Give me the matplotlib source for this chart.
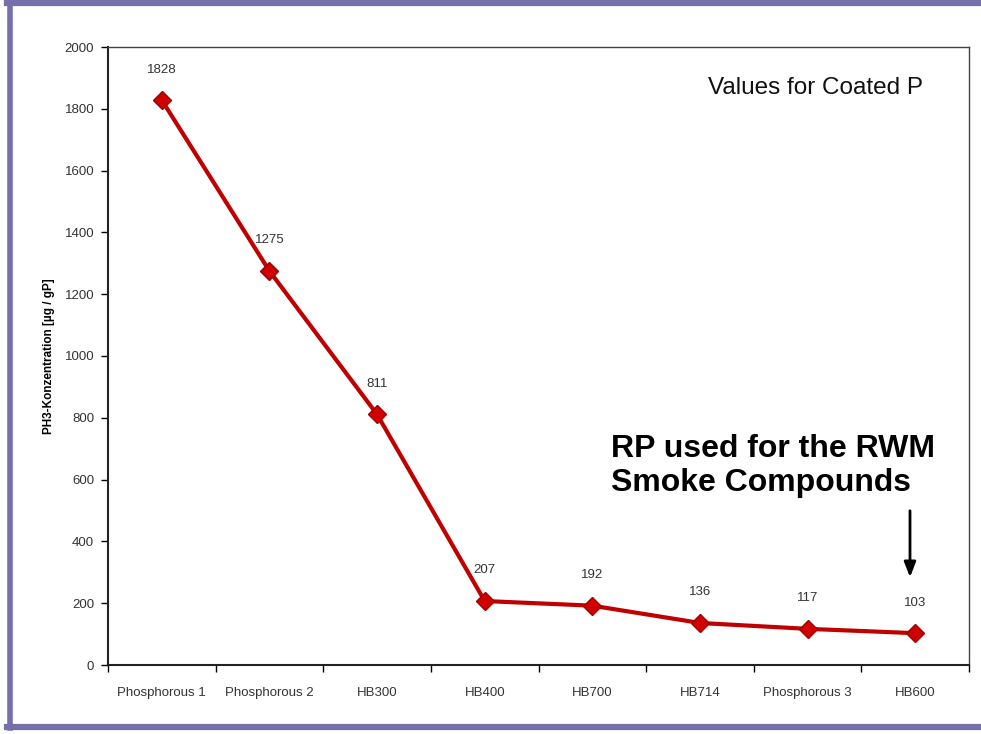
import matplotlib.pyplot as plt
import matplotlib.lines as mlines
import numpy as np

# data
categories = ["Phosphorous 1", "Phosphorous 2", "HB300", "HB400",
              "HB700", "HB714", "Phosphorous 3", "HB600"]
values = [1828, 1275, 811, 207, 192, 136, 117, 103]
yticks = [0, 200, 400, 600, 800, 1000, 1200, 1400, 1600, 1800, 2000]

plt.rcParams["font.family"] = ["Liberation Sans", "DejaVu Sans"]

fig = plt.figure(figsize=(9.81, 7.34), dpi=100)
W, H = 981, 734
ax = fig.add_axes([108 / W, 1 - 665 / H, (969 - 108) / W, (665 - 47) / H])

x = np.arange(len(categories))
ax.plot(x, values, color="#c00000", lw=3, marker="D", markersize=9,
        markerfacecolor="#d00000", markeredgecolor="#a00000", zorder=3)
for xi, v in zip(x, values):
    ax.annotate(str(v), (xi, v), xytext=(0, 22), textcoords="offset points",
                ha="center", va="center", fontsize=9.5, color="#333333")

ax.set_xlim(-0.5, len(categories) - 0.5)
ax.set_ylim(0, 2000)
ax.set_yticks(yticks)
ax.set_yticklabels([str(t) for t in yticks], fontsize=9.5, color="#333333")
ax.set_xticks(x)
ax.set_xticklabels(categories, fontsize=9.5, color="#333333")
ax.set_xticks(np.arange(len(categories) + 1) - 0.5, minor=True)
ax.tick_params(axis="x", which="major", length=0, pad=16)
ax.tick_params(axis="x", which="minor", length=5, width=1, direction="out")
ax.tick_params(axis="y", length=5, width=1, direction="out", pad=5)
for s in ax.spines.values():
    s.set_linewidth(1.5)
    s.set_color("#222222")
ax.spines["top"].set_linewidth(1.0)
ax.spines["right"].set_linewidth(1.0)
ax.spines["top"].set_color("#444444")
ax.spines["right"].set_color("#444444")

ax.set_ylabel("PH3-Konzentration [µg / gP]", fontsize=8.5, fontweight="bold",
              labelpad=7)

fig.text(816 / W, 1 - 88 / H, "Values for Coated P", fontsize=17.5,
         ha="center", va="center", color="#111111")
fig.text(611 / W, 1 - 466 / H, "RP used for the RWM\nSmoke Compounds",
         fontsize=23, fontweight="bold", ha="left", va="center",
         linespacing=1.2)
ax.annotate("", xy=(910 / W, 1 - 580 / H), xytext=(910 / W, 1 - 508 / H),
            xycoords="figure fraction", textcoords="figure fraction",
            arrowprops=dict(arrowstyle="-|>,head_length=0.9,head_width=0.35",
                            color="black", lw=2))

# purple frame
fc = "#7670aa"
fig.add_artist(mlines.Line2D([9.5 / W, 9.5 / W], [1 - 2 / H, 1 - 728 / H],
                             transform=fig.transFigure, color=fc, lw=4))
fig.add_artist(mlines.Line2D([7 / W, 1], [1 - 3 / H, 1 - 3 / H],
                             transform=fig.transFigure, color=fc, lw=4.5))
fig.add_artist(mlines.Line2D([7 / W, 1], [1 - 727 / H, 1 - 727 / H],
                             transform=fig.transFigure, color=fc, lw=4.5))

fig.savefig("out.png", dpi=100)
